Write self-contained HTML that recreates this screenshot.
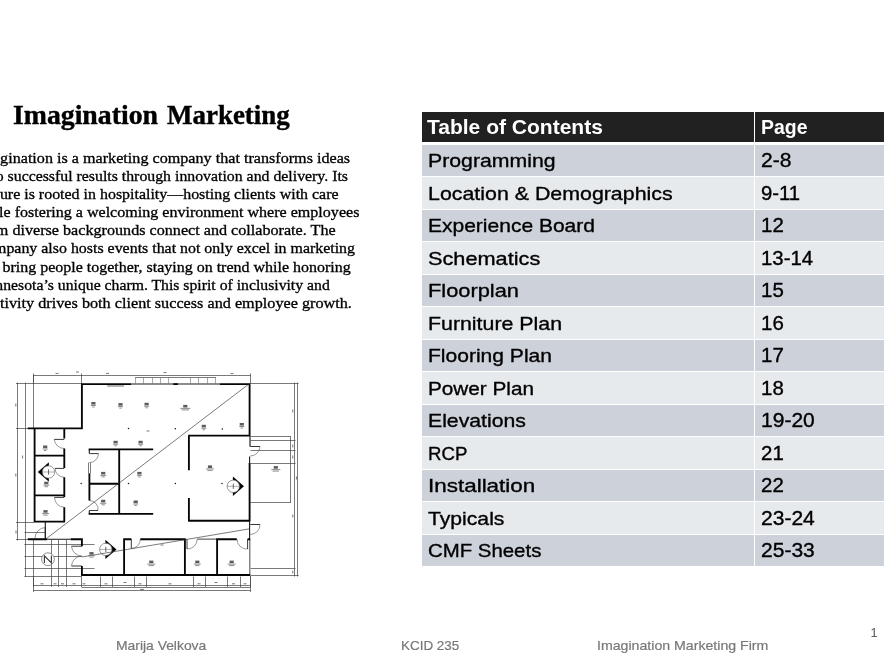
<!DOCTYPE html>
<html>
<head>
<meta charset="utf-8">
<title>Imagination Marketing</title>
<style>
html,body{margin:0;padding:0;background:#fff;}
body{width:884px;height:663px;position:relative;overflow:hidden;font-family:"Liberation Sans",sans-serif;}
.abs{position:absolute;white-space:nowrap;}
.title{font-family:"Liberation Serif",serif;font-weight:bold;font-size:27.6px;line-height:36px;color:#000;transform-origin:0 0;-webkit-text-stroke:0.4px #000;filter:blur(0.3px);}
.bl{font-family:"Liberation Serif",serif;font-size:15.3px;line-height:18px;color:#000;transform-origin:0 0;-webkit-text-stroke:0.32px #000;filter:blur(0.3px);}
.row{position:absolute;left:422.0px;width:462.0px;}
.c1,.c2{position:absolute;top:0;height:100%;}
.c1{left:0;width:332.00px;}
.c2{left:333.00px;right:0;}
.t{position:absolute;white-space:nowrap;font-size:19.0px;line-height:24px;color:#000;transform-origin:0 0;-webkit-text-stroke:0.35px #000;filter:blur(0.3px);}
.n{font-size:20.0px;}
.hd .t{color:#fff;font-weight:bold;font-size:20.0px;-webkit-text-stroke:0;}
.ft{font-size:13px;line-height:16px;color:#787878;transform-origin:0 0;-webkit-text-stroke:0.2px #787878;filter:blur(0.3px);}
.plan{position:absolute;left:0;top:0;}
</style>
</head>
<body>
<div class="abs title" style="left:12.99px;top:97.00px;transform:scaleX(1.0056)">Imagination</div>
<div class="abs title" style="left:167.20px;top:97.00px;transform:scaleX(0.9770)">Marketing</div>
<div class="abs bl" style="left:-24.59px;top:148.90px;transform:scaleX(1.0551)">Imagination is a marketing company that transforms ideas</div>
<div class="abs bl" style="left:-20.87px;top:167.00px;transform:scaleX(1.0343)">into successful results through innovation and delivery. Its</div>
<div class="abs bl" style="left:-24.18px;top:185.10px;transform:scaleX(1.0420)">culture is rooted in hospitality—hosting clients with care</div>
<div class="abs bl" style="left:-25.35px;top:203.20px;transform:scaleX(1.0498)">while fostering a welcoming environment where employees</div>
<div class="abs bl" style="left:-22.61px;top:221.30px;transform:scaleX(1.0549)">from diverse backgrounds connect and collaborate. The</div>
<div class="abs bl" style="left:-21.31px;top:239.40px;transform:scaleX(1.0401)">company also hosts events that not only excel in marketing</div>
<div class="abs bl" style="left:-22.43px;top:257.50px;transform:scaleX(1.0450)">but bring people together, staying on trend while honoring</div>
<div class="abs bl" style="left:-23.14px;top:275.60px;transform:scaleX(1.0284)">Minnesota’s unique charm. This spirit of inclusivity and</div>
<div class="abs bl" style="left:-26.75px;top:293.70px;transform:scaleX(1.0593)">creativity drives both client success and employee growth.</div>
<div class="row hd" style="top:111.90px;height:30.40px"><div class="c1" style="background:#212121"></div><div class="c2" style="background:#212121"></div><div class="t" style="left:4.70px;top:3.40px;transform:scaleX(1.0503)">Table of Contents</div><div class="t" style="left:339.20px;top:3.40px;transform:scaleX(0.9729)">Page</div></div>
<div class="row" style="top:145.00px;height:31.00px"><div class="c1" style="background:#ccd1da"></div><div class="c2" style="background:#ccd1da"></div><div class="t" style="left:5.60px;top:4.10px;transform:scaleX(1.1186)">Programming</div><div class="t n" style="left:339.20px;top:3.10px;transform:scaleX(1.0536)">2-8</div></div>
<div class="row" style="top:177.00px;height:32.00px"><div class="c1" style="background:#e7eaed"></div><div class="c2" style="background:#e7eaed"></div><div class="t" style="left:5.60px;top:4.60px;transform:scaleX(1.1244)">Location &amp; Demographics</div><div class="t n" style="left:339.20px;top:3.60px;transform:scaleX(1.0158)">9-11</div></div>
<div class="row" style="top:210.00px;height:31.00px"><div class="c1" style="background:#ccd1da"></div><div class="c2" style="background:#ccd1da"></div><div class="t" style="left:5.60px;top:4.10px;transform:scaleX(1.1053)">Experience Board</div><div class="t n" style="left:339.20px;top:3.10px;transform:scaleX(1.0227)">12</div></div>
<div class="row" style="top:242.00px;height:32.00px"><div class="c1" style="background:#e7eaed"></div><div class="c2" style="background:#e7eaed"></div><div class="t" style="left:5.60px;top:4.60px;transform:scaleX(1.1429)">Schematics</div><div class="t n" style="left:339.20px;top:3.60px;transform:scaleX(1.0196)">13-14</div></div>
<div class="row" style="top:275.00px;height:31.00px"><div class="c1" style="background:#ccd1da"></div><div class="c2" style="background:#ccd1da"></div><div class="t" style="left:5.60px;top:4.10px;transform:scaleX(1.1487)">Floorplan</div><div class="t n" style="left:339.20px;top:3.10px;transform:scaleX(1.0227)">15</div></div>
<div class="row" style="top:307.00px;height:32.00px"><div class="c1" style="background:#e7eaed"></div><div class="c2" style="background:#e7eaed"></div><div class="t" style="left:5.60px;top:4.60px;transform:scaleX(1.1229)">Furniture Plan</div><div class="t n" style="left:339.20px;top:3.60px;transform:scaleX(1.0227)">16</div></div>
<div class="row" style="top:340.00px;height:31.00px"><div class="c1" style="background:#ccd1da"></div><div class="c2" style="background:#ccd1da"></div><div class="t" style="left:5.60px;top:4.10px;transform:scaleX(1.1072)">Flooring Plan</div><div class="t n" style="left:339.20px;top:3.10px;transform:scaleX(1.0227)">17</div></div>
<div class="row" style="top:372.00px;height:32.00px"><div class="c1" style="background:#e7eaed"></div><div class="c2" style="background:#e7eaed"></div><div class="t" style="left:5.60px;top:4.60px;transform:scaleX(1.0906)">Power Plan</div><div class="t n" style="left:339.20px;top:3.60px;transform:scaleX(1.0227)">18</div></div>
<div class="row" style="top:405.00px;height:31.00px"><div class="c1" style="background:#ccd1da"></div><div class="c2" style="background:#ccd1da"></div><div class="t" style="left:5.60px;top:4.10px;transform:scaleX(1.1161)">Elevations</div><div class="t n" style="left:339.20px;top:3.10px;transform:scaleX(1.0510)">19-20</div></div>
<div class="row" style="top:437.00px;height:32.00px"><div class="c1" style="background:#e7eaed"></div><div class="c2" style="background:#e7eaed"></div><div class="t" style="left:5.60px;top:4.60px;transform:scaleX(0.9800)">RCP</div><div class="t n" style="left:339.20px;top:3.60px;transform:scaleX(1.0227)">21</div></div>
<div class="row" style="top:470.00px;height:31.00px"><div class="c1" style="background:#ccd1da"></div><div class="c2" style="background:#ccd1da"></div><div class="t" style="left:5.60px;top:4.10px;transform:scaleX(1.1811)">Installation</div><div class="t n" style="left:339.20px;top:3.10px;transform:scaleX(1.0227)">22</div></div>
<div class="row" style="top:502.00px;height:32.00px"><div class="c1" style="background:#e7eaed"></div><div class="c2" style="background:#e7eaed"></div><div class="t" style="left:5.60px;top:4.60px;transform:scaleX(1.1132)">Typicals</div><div class="t n" style="left:339.20px;top:3.60px;transform:scaleX(1.0510)">23-24</div></div>
<div class="row" style="top:535.00px;height:31.00px"><div class="c1" style="background:#ccd1da"></div><div class="c2" style="background:#ccd1da"></div><div class="t" style="left:5.60px;top:4.10px;transform:scaleX(1.0733)">CMF Sheets</div><div class="t n" style="left:339.20px;top:3.10px;transform:scaleX(1.0510)">25-33</div></div>
<div class="abs ft" style="left:116.23px;top:637.50px;transform:scaleX(1.0679)">Marija Velkova</div>
<div class="abs ft" style="left:400.67px;top:637.50px;transform:scaleX(1.0345)">KCID 235</div>
<div class="abs ft" style="left:596.51px;top:637.50px;transform:scaleX(1.0878)">Imagination Marketing Firm</div>
<div class="abs ft" style="left:870.70px;top:624.50px;color:#5a5a5a;font-size:12px;transform:scaleX(1.0000)">1</div>
<svg class="plan" width="884" height="663" viewBox="0 0 884 663" style="filter:blur(0.35px)">
<path d="M249.5 436.2L249.5 446.5 M250.5 436.2L250.5 446.5 M88.5 462.6L88.5 473.2 M90.5 462.6L90.5 473.2 M33.2 375.5L250.6 375.5 M135.1 377.5L216.0 377.5 M33.5 373.5L33.5 384.0 M81.5 373.5L81.5 384.0 M250.5 373.5L250.5 384.0 M17.5 382.5L17.5 540.5 M25.5 382.5L25.5 577.0 M33.5 375.0L33.5 428.4 M16.0 383.5L81.9 383.5 M16.0 428.5L28.0 428.5 M16.0 522.5L34.0 522.5 M16.0 539.5L28.0 539.5 M24.5 532.5L45.3 532.5 M250.6 383.5L298.6 383.5 M294.5 382.5L294.5 576.5 M297.5 382.5L297.5 576.5 M250.6 436.5L290.9 436.5 M290.5 436.6L290.5 502.6 M250.6 502.5L290.9 502.5 M250.6 440.5L295.5 440.5 M250.6 450.5L295.5 450.5 M250.6 463.5L295.5 463.5 M250.6 568.5L295.5 568.5 M250.6 575.5L298.6 575.5 M33.5 585.5L250.6 585.5 M33.5 590.5L250.6 590.5 M81.5 587.5L250.6 587.5 M81.5 576.5L81.5 587.0 M100.5 576.5L100.5 587.0 M112.5 576.5L112.5 587.0 M134.5 576.5L134.5 587.0 M146.5 576.5L146.5 587.0 M193.5 576.5L193.5 587.0 M205.5 576.5L205.5 587.0 M227.5 576.5L227.5 587.0 M240.5 576.5L240.5 587.0 M250.5 576.5L250.5 587.0 M33.5 576.0L33.5 592.0 M250.5 576.0L250.5 592.0 M33.5 539.5L33.5 587.0 M51.5 539.5L51.5 587.0 M58.5 539.5L58.5 587.0 M66.5 539.5L66.5 587.0 M24.4 544.5L94.5 544.5 M24.4 556.5L81.9 556.5 M24.4 568.5L94.5 568.5 M24.4 576.5L81.9 576.5" stroke="#404040" stroke-width="0.7" fill="none"/>
<path d="M135.5 377.5L135.5 383.4 M143.5 377.5L143.5 383.4 M152.5 377.5L152.5 383.4 M160.5 377.5L160.5 383.4 M168.5 377.5L168.5 383.4 M190.5 377.5L190.5 383.4 M198.5 377.5L198.5 383.4 M207.5 377.5L207.5 383.4 M215.5 377.5L215.5 383.4" stroke="#707070" stroke-width="0.6" fill="none"/>
<path d="M54.3 439.4A10.0 10.0 0 0 0 64.3 448.5M55.0 468.4A9.3 9.3 0 0 0 64.3 477.3M54.5 497.4A9.8 9.8 0 0 0 64.3 507.2M98.5 453.6A9.2 9.2 0 0 1 89.3 462.6M98.0 510.5A8.7 8.7 0 0 0 89.3 500.5M45.3 527.5A10.8 10.8 0 0 0 35.0 538.3M260.0 446.5A9.8 9.8 0 0 1 250.2 456.0M260.0 524.5A9.8 9.8 0 0 1 250.2 534.5M187.0 549.0A9.8 9.8 0 0 0 197.2 539.2M247.6 549.0A9.8 9.8 0 0 1 237.0 539.2M131.3 548.5A9.3 9.3 0 0 0 140.3 539.2M71.5 546.2A10.4 10.4 0 0 0 81.9 556.0M71.5 566.0A10.4 10.4 0 0 1 81.9 556.0" stroke="#555" stroke-width="0.6" fill="none"/>
<path d="M64.3 439.4L54.3 439.4M64.3 468.4L55.0 468.4M64.3 497.4L54.5 497.4M89.3 453.6L98.5 453.6M89.3 510.5L98.0 510.5M45.3 538.3L45.3 527.5M250.2 446.5L260.0 446.5M250.2 524.5L260.0 524.5M187.0 539.2L187.0 549.0M247.6 539.2L247.6 549.0M131.3 539.2L131.3 548.5M81.9 546.2L71.5 546.2M81.9 566.0L71.5 566.0" stroke="#222" stroke-width="0.9" fill="none"/>
<path d="M249.8 539.2L249.8 575.6 M197.2 539.2L217.1 539.2" stroke="#666" stroke-width="1.2" fill="none"/>
<path d="M131.2 384.0L219.7 384.0 M249.6 456.5L249.6 463.0 M249.6 521.3L249.6 539.2 M89.3 449.3L89.3 453.6 M89.3 510.5L89.3 513.9 M47.2 539.2L70.6 539.2 M45.3 521.6L45.3 539.2" stroke="#1a1a1a" stroke-width="1.1" fill="none"/>
<path d="M81.2 384.1L131.2 384.1 M173.4 384.1L177.9 384.1 M219.7 384.1L250.2 384.1 M81.9 383.4L81.9 429.0 M27.8 428.4L82.6 428.4 M34.6 428.4L34.6 522.2 M34.6 455.6L64.3 455.6 M34.6 495.4L64.3 495.4 M33.9 521.6L65.0 521.6 M64.3 428.4L64.3 438.6 M64.3 448.5L64.3 468.0 M64.3 477.3L64.3 497.0 M64.3 507.2L64.3 521.6 M249.6 383.4L249.6 436.2 M249.6 463.0L249.6 521.3 M188.2 435.6L250.2 435.6 M188.9 435.6L188.9 470.2 M188.9 498.0L188.9 521.2 M188.2 520.7L250.2 520.7 M88.7 449.3L153.2 449.3 M119.2 449.3L119.2 513.9 M88.7 483.7L119.2 483.7 M88.7 513.9L153.2 513.9 M89.4 473.2L89.4 500.4 M27.8 539.2L47.2 539.2 M70.6 539.2L82.6 539.2 M81.9 538.3L81.9 546.2 M81.9 566.0L81.9 575.6 M81.2 575.0L250.2 575.0 M124.1 538.3L124.1 575.0 M123.4 539.2L131.3 539.2 M140.3 539.2L185.6 539.2 M184.9 538.3L184.9 575.0 M217.1 539.2L236.8 539.2 M217.1 538.3L217.1 575.0 M247.6 539.2L250.2 539.2" stroke="#050505" stroke-width="1.85" fill="none"/>
<path d="M107.2 386.0L124 386.0" stroke="#8a8a8a" stroke-width="1.3"/>
<circle cx="128.5" cy="428.4" r="0.75" fill="#111"/>
<circle cx="175.3" cy="428.7" r="0.75" fill="#111"/>
<circle cx="222.3" cy="428.9" r="0.75" fill="#111"/>
<circle cx="81.2" cy="483.4" r="0.75" fill="#111"/>
<circle cx="128.5" cy="483.4" r="0.75" fill="#111"/>
<circle cx="175.3" cy="483.6" r="0.75" fill="#111"/>
<circle cx="222.0" cy="483.6" r="0.75" fill="#111"/>
<path d="M48.9 462.3L37.8 472.0L48.9 481.7Z" fill="#050505"/><circle cx="48.5" cy="472.0" r="6.2" fill="#fff" stroke="#555" stroke-width="0.6"/><path d="M42.3 472.0L54.7 472.0" stroke="#777" stroke-width="0.6"/><path d="M48.5 469.4L48.5 474.6" stroke="#666" stroke-width="1"/>
<path d="M105.4 539.7L116.5 549.4L105.4 559.1Z" fill="#050505"/><circle cx="105.8" cy="549.4" r="6.2" fill="#fff" stroke="#555" stroke-width="0.6"/><path d="M99.6 549.4L112.0 549.4" stroke="#777" stroke-width="0.6"/><path d="M105.8 546.8L105.8 552.0" stroke="#666" stroke-width="1"/>
<path d="M232.9 476.6L244.0 486.3L232.9 496.0Z" fill="#050505"/><circle cx="233.3" cy="486.3" r="6.2" fill="#fff" stroke="#555" stroke-width="0.6"/><path d="M227.10000000000002 486.3L239.5 486.3" stroke="#777" stroke-width="0.6"/><path d="M233.3 483.7L233.3 488.90000000000003" stroke="#666" stroke-width="1"/>
<path d="M248.9 384.0L46.4 538.6 M249.2 528.9L81.9 557.0" stroke="#333" stroke-width="0.65" fill="none"/>
<circle cx="48" cy="559.2" r="6.4" fill="#fff" stroke="#444" stroke-width="0.6"/><path d="M44.4 563L44.4 555.8L51.4 562.8L51.4 555.6" stroke="#333" stroke-width="1.1" fill="none"/>
<rect x="91.3" y="402.0" width="4.2" height="2.6" fill="#5c5c5c"/>
<rect x="118.4" y="403.1" width="4.2" height="2.6" fill="#5c5c5c"/>
<rect x="144.5" y="402.8" width="4.2" height="2.6" fill="#5c5c5c"/>
<rect x="183.2" y="404.9" width="4.2" height="2.6" fill="#5c5c5c"/>
<rect x="201.7" y="424.8" width="4.2" height="2.6" fill="#5c5c5c"/>
<rect x="239.7" y="423.0" width="4.2" height="2.6" fill="#5c5c5c"/>
<rect x="113.5" y="440.8" width="4.2" height="2.6" fill="#5c5c5c"/>
<rect x="138.5" y="440.8" width="4.2" height="2.6" fill="#5c5c5c"/>
<rect x="43.1" y="445.5" width="4.2" height="2.6" fill="#5c5c5c"/>
<rect x="101.1" y="471.9" width="4.2" height="2.6" fill="#5c5c5c"/>
<rect x="137.3" y="471.9" width="4.2" height="2.6" fill="#5c5c5c"/>
<rect x="207.9" y="465.4" width="4.2" height="2.6" fill="#5c5c5c"/>
<rect x="273.7" y="466.1" width="4.2" height="2.6" fill="#5c5c5c"/>
<rect x="44.2" y="481.7" width="4.2" height="2.6" fill="#5c5c5c"/>
<rect x="101.1" y="499.8" width="4.2" height="2.6" fill="#5c5c5c"/>
<rect x="133.6" y="500.5" width="4.2" height="2.6" fill="#5c5c5c"/>
<rect x="43.4" y="510.1" width="4.2" height="2.6" fill="#5c5c5c"/>
<rect x="89.4" y="552.1" width="4.2" height="2.6" fill="#5c5c5c"/>
<rect x="149.2" y="560.6" width="4.2" height="2.6" fill="#5c5c5c"/>
<rect x="195.2" y="560.6" width="4.2" height="2.6" fill="#5c5c5c"/>
<rect x="229.6" y="560.6" width="4.2" height="2.6" fill="#5c5c5c"/>
<path d="M90.9 405.5L95.9 405.5M92.2 407.0L94.6 407.0M118.0 406.6L123.0 406.6M119.3 408.1L121.7 408.1M144.1 406.3L149.1 406.3M145.4 407.8L147.8 407.8M180.3 408.4L190.3 408.4M181.6 409.9L189.0 409.9M201.3 428.3L206.3 428.3M202.6 429.8L205.0 429.8M239.3 426.5L244.3 426.5M240.6 428.0L243.0 428.0M113.1 444.3L118.1 444.3M114.4 445.8L116.8 445.8M138.1 444.3L143.1 444.3M139.4 445.8L141.8 445.8M42.7 449.0L47.7 449.0M44.0 450.5L46.4 450.5M100.2 475.4L106.2 475.4M101.5 476.9L104.9 476.9M136.9 475.4L141.9 475.4M138.2 476.9L140.6 476.9M206.0 468.9L214.0 468.9M207.3 470.4L212.7 470.4M271.3 469.6L280.3 469.6M272.6 471.1L279.0 471.1M43.3 485.2L49.3 485.2M44.6 486.7L48.0 486.7M100.2 503.3L106.2 503.3M101.5 504.8L104.9 504.8M133.2 504.0L138.2 504.0M134.5 505.5L136.9 505.5M42.0 513.6L49.0 513.6M43.3 515.1L47.7 515.1M88.0 555.6L95.0 555.6M89.3 557.1L93.7 557.1M147.3 564.1L155.3 564.1M148.6 565.6L154.0 565.6M193.8 564.1L200.8 564.1M195.1 565.6L199.5 565.6M227.7 564.1L235.7 564.1M229.0 565.6L234.4 565.6" stroke="#707070" stroke-width="0.8"/>
<path d="M55.5 373.4L58.5 373.4M76.0 372.0L79.0 372.0M106.0 373.4L109.0 373.4M163.5 372.6L166.5 372.6M230.5 373.6L233.5 373.6M15.8 403.5L15.8 406.5M22.6 455.5L22.6 458.5M15.8 473.5L15.8 476.5M292.8 409.5L292.8 412.5M292.8 444.5L292.8 447.5M292.8 455.5L292.8 458.5M296.4 476.5L296.4 479.5M292.8 514.5L292.8 517.5M292.8 570.5L292.8 573.5M40.5 583.8L43.5 583.8M53.5 583.8L56.5 583.8M61.0 583.8L64.0 583.8M72.5 583.8L75.5 583.8M82.5 583.8L85.5 583.8M104.5 583.8L107.5 583.8M123.5 582.5L126.5 582.5M138.5 583.8L141.5 583.8M168.5 583.8L171.5 583.8M197.5 583.8L200.5 583.8M214.5 582.5L217.5 582.5M232.0 583.8L235.0 583.8M243.5 583.8L246.5 583.8M140.0 589.4L144.0 589.4M146.5 431.0L149.5 431.0M160.5 545.0L163.5 545.0M16.0 530.5L16.0 533.5" stroke="#777" stroke-width="1"/>
</svg>
</body>
</html>
